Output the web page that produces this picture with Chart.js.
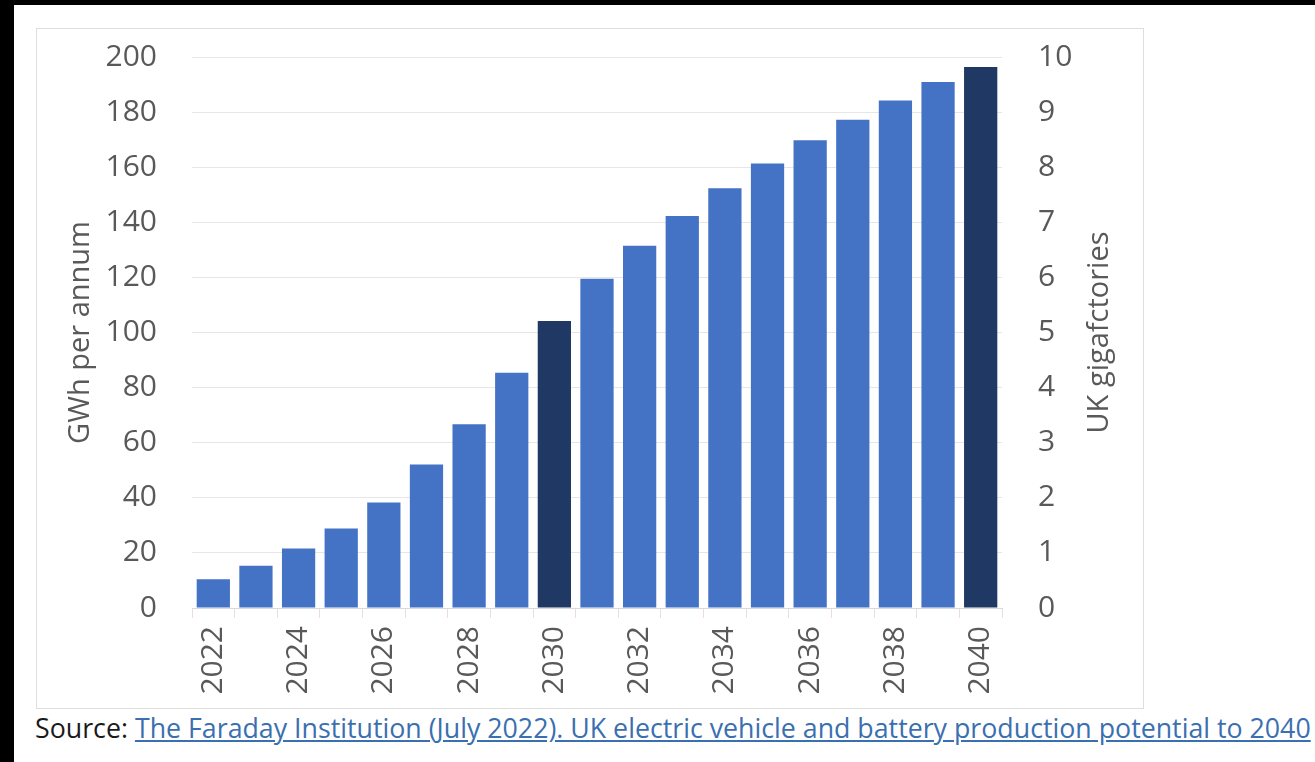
<!DOCTYPE html>
<html>
<head>
<meta charset="utf-8">
<script src="https://cdn.jsdelivr.net/npm/chart.js@4.4.1/dist/chart.umd.min.js"></script>
<style>
  html, body { margin: 0; padding: 0; }
  body { width: 1315px; height: 762px; background: #000; position: relative; overflow: hidden; }
  #page { position: absolute; left: 14px; top: 5px; right: 0; bottom: 0; background: #fff; }
  #frame { position: absolute; left: 36px; top: 28px; width: 1106px; height: 679px; border: 1px solid #dedede; }
  #frame canvas { position: absolute; left: 0; top: -26px; }
  #source { position: absolute; left: 35px; top: 709px; font-family: "Open Sans", sans-serif; font-size: 26.75px; color: #1a1a1a; white-space: nowrap; }
  #source a { color: #3a6fb0; text-decoration: underline; }
</style>
</head>
<body>
<div id="page"></div>
<div id="frame"><canvas id="chart" width="1106" height="705"></canvas></div>
<div id="source">Source: <a href="#">The Faraday Institution (July 2022). UK electric vehicle and battery production potential to 2040</a></div>
<script>
const years = ['2022','2023','2024','2025','2026','2027','2028','2029','2030','2031',
               '2032','2033','2034','2035','2036','2037','2038','2039','2040'];
const gwhPerAnnum = [10.4, 15.3, 21.6, 28.9, 38.3, 52.1, 66.7, 85.4, 104.2, 119.5,
                     131.5, 142.3, 152.4, 161.3, 169.8, 177.2, 184.2, 190.9, 196.4];
const highlightYears = ['2030', '2040'];
const leftTicks = [0, 200, 20];    // min, max, step
const rightTicks = [0, 10, 1];

const tickFont = { family: '"Open Sans", sans-serif', size: 30 };
const titleFont = { family: '"Open Sans", sans-serif', size: 29 };
const grey = '#595959';

const barColors = years.map(y => highlightYears.includes(y) ? '#1f3864' : '#4472c4');

// right axis title reads bottom-to-top like the left one, so draw it by hand
const rightTitle = {
  id: 'rightTitle',
  afterDraw(chart) {
    const s = chart.scales.y2;
    const c = chart.ctx;
    c.save();
    c.translate(s.right - 43, (chart.chartArea.top + chart.chartArea.bottom) / 2);
    c.rotate(-Math.PI / 2);
    c.font = titleFont.size + 'px ' + titleFont.family;
    c.fillStyle = grey;
    c.textAlign = 'center';
    c.textBaseline = 'middle';
    c.fillText('UK gigafctories', 0, 0);
    c.restore();
  }
};

const ctx = document.getElementById('chart').getContext('2d');
new Chart(ctx, {
  type: 'bar',
  data: {
    labels: years,
    datasets: [{
      label: 'GWh per annum',
      data: gwhPerAnnum,
      backgroundColor: barColors,
      categoryPercentage: 1,
      barPercentage: 0.78,
      yAxisID: 'y'
    }]
  },
  options: {
    responsive: false,
    animation: false,
    layout: { padding: 0 },
    plugins: { legend: { display: false }, tooltip: { enabled: false } },
    scales: {
      x: {
        grid: { drawOnChartArea: false, drawTicks: true, tickLength: 10, color: '#ecdcdc', offset: true },
        border: { color: '#d9d9d9' },
        ticks: {
          color: grey, font: tickFont, autoSkip: false, maxRotation: 90, minRotation: 90, padding: 8,
          callback: function(v, i) { return i % 2 === 0 ? this.getLabelForValue(v) : ''; }
        },
        afterFit: s => { s.height = 100; }
      },
      y: {
        position: 'left',
        min: leftTicks[0], max: leftTicks[1],
        ticks: { stepSize: leftTicks[2], color: grey, font: tickFont, padding: 35 },
        grid: { color: '#e6e6e6', drawTicks: false },
        border: { display: false },
        title: { display: true, text: 'GWh per annum', color: grey, font: titleFont, padding: { top: 26, bottom: 0 } },
        afterFit: s => { s.width = 155; }
      },
      y2: {
        position: 'right',
        min: rightTicks[0], max: rightTicks[1],
        ticks: { stepSize: rightTicks[2], color: grey, font: tickFont, padding: 36 },
        grid: { drawOnChartArea: false, drawTicks: false },
        border: { display: false },
        afterFit: s => { s.width = 141; }
      }
    }
  },
  plugins: [rightTitle]
});
</script>
</body>
</html>
